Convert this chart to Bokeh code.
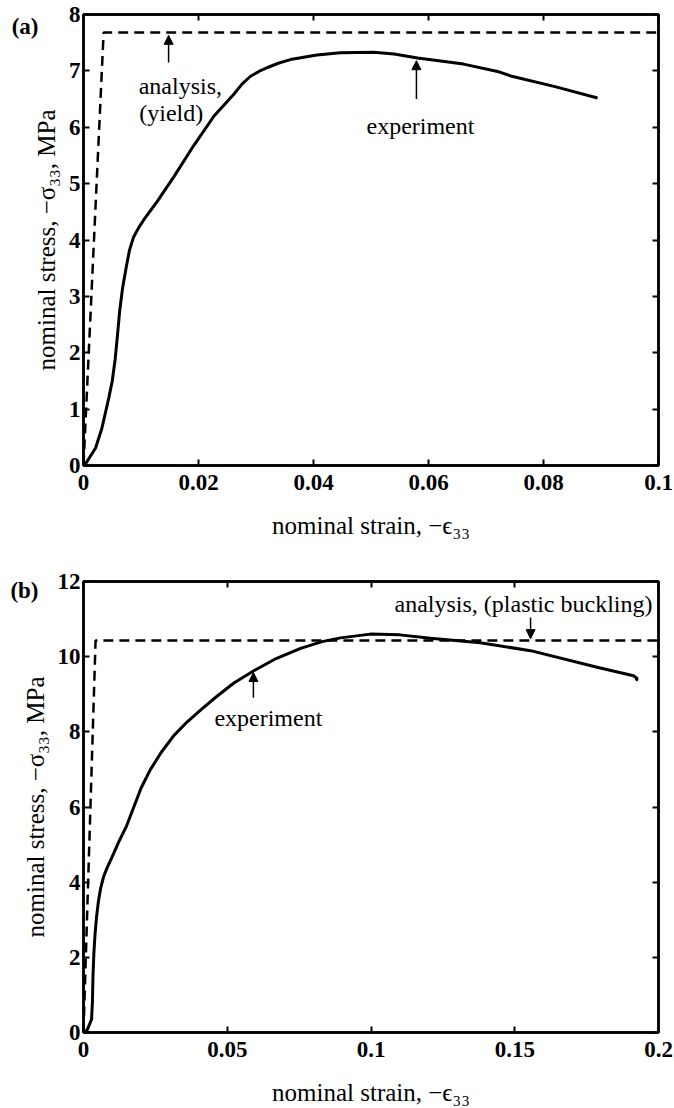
from bokeh.plotting import figure
from bokeh.layouts import column
from bokeh.models import (FixedTicker, LinearAxis, Range1d, Label, Arrow,
                          NormalHead, CustomJSTickFormatter)
from bokeh.embed import file_html
from bokeh.resources import INLINE

# ---------------- panel (a) data ----------------
exp_a_strain = [0, 0.0003, 0.0021, 0.0032, 0.0044, 0.0050, 0.0055, 0.0059, 0.0063,
                0.0068, 0.0074, 0.0080, 0.0087, 0.0096, 0.0105, 0.0128, 0.0157,
                0.0192, 0.0227, 0.0261, 0.0276, 0.0290, 0.0305, 0.0320, 0.0340,
                0.0360, 0.0406, 0.0447, 0.0504, 0.0540, 0.0581, 0.0661, 0.0720,
                0.0743, 0.0820, 0.0894]
exp_a_stress = [0, 0.02, 0.31, 0.66, 1.20, 1.50, 1.88, 2.30, 2.75,
                3.15, 3.50, 3.82, 4.05, 4.22, 4.36, 4.68, 5.12,
                5.68, 6.20, 6.58, 6.77, 6.90, 6.99, 7.06, 7.14,
                7.20, 7.28, 7.32, 7.33, 7.30, 7.23, 7.12, 6.99,
                6.91, 6.72, 6.52]
ana_a_strain = [0, 0.0035, 0.1]
ana_a_stress = [0, 7.68, 7.68]
xticks_a = [0, 0.02, 0.04, 0.06, 0.08, 0.1]
xlabels_a = ["0", "0.02", "0.04", "0.06", "0.08", "0.1"]
yticks_a = [0, 1, 2, 3, 4, 5, 6, 7, 8]
ylabels_a = ["0", "1", "2", "3", "4", "5", "6", "7", "8"]

# ---------------- panel (b) data ----------------
exp_b_strain = [0, 0.0013, 0.0028, 0.0031, 0.0033, 0.0036, 0.0040, 0.0045, 0.0052,
                0.0060, 0.0070, 0.0082, 0.0100, 0.0123, 0.0150, 0.0175, 0.0200,
                0.0233, 0.0270, 0.0314, 0.0360, 0.0407, 0.0460, 0.0523, 0.0591,
                0.0670, 0.0755, 0.0830, 0.0894, 0.0998, 0.1100, 0.1207, 0.1380,
                0.1555, 0.1790, 0.1913, 0.1926, 0.1922]
exp_b_stress = [0, 0.07, 0.35, 0.80, 1.50, 2.10, 2.60, 3.05, 3.50,
                3.85, 4.15, 4.38, 4.68, 5.08, 5.50, 6.00, 6.50,
                7.00, 7.45, 7.90, 8.26, 8.58, 8.92, 9.30, 9.62,
                9.95, 10.22, 10.40, 10.50, 10.60, 10.58, 10.49, 10.37,
                10.16, 9.71, 9.49, 9.42, 9.36]
ana_b_strain = [0, 0.0042, 0.2]
ana_b_stress = [0, 10.43, 10.43]
xticks_b = [0, 0.05, 0.1, 0.15, 0.2]
xlabels_b = ["0", "0.05", "0.1", "0.15", "0.2"]
yticks_b = [0, 2, 4, 6, 8, 10, 12]
ylabels_b = ["0", "2", "4", "6", "8", "10", "12"]

XLABEL = "nominal strain, \u2212\u03f5\u2083\u2083"
YLABEL = "nominal stress, \u2212\u03c3\u2083\u2083, MPa"

SERIF = "Liberation Serif"


def make_panel(xr, yr, xticks, xlabels, yticks, ylabels, height, bborder,
               tag, tag_pos, tag_standoff):
    p = figure(width=674, height=height, x_range=Range1d(*xr), y_range=Range1d(*yr),
               output_backend="svg", toolbar_location=None,
               min_border_left=83, min_border_right=16, min_border_top=14,
               min_border_bottom=bborder)
    p.grid.visible = False
    p.outline_line_color = "black"
    p.outline_line_width = 2.5
    p.background_fill_color = "white"
    p.border_fill_color = "white"

    p.xaxis.ticker = FixedTicker(ticks=xticks)
    p.xaxis.major_label_overrides = dict(zip(xticks, xlabels))
    p.yaxis.ticker = FixedTicker(ticks=yticks)
    p.yaxis.major_label_overrides = dict(zip(yticks, ylabels))
    p.xaxis.axis_label = XLABEL
    p.yaxis.axis_label = YLABEL

    for ax in (p.xaxis[0], p.yaxis[0]):
        ax.axis_line_width = 2.5
        ax.major_tick_line_width = 2
        ax.major_tick_in = 6
        ax.major_tick_out = 0
        ax.minor_tick_line_color = None
        ax.major_label_text_font = SERIF
        ax.major_label_text_font_style = "bold"
        ax.major_label_text_font_size = "23px"
        ax.major_label_text_color = "black"
        ax.axis_label_text_font = SERIF
        ax.axis_label_text_font_style = "normal"
        ax.axis_label_text_font_size = "25px"
        ax.axis_label_text_color = "black"
    p.xaxis.major_label_standoff = 9
    p.xaxis.axis_label_standoff = 19
    p.yaxis.major_label_standoff = 3
    p.yaxis.axis_label_standoff = 6

    blank = CustomJSTickFormatter(code="return ''")
    top = LinearAxis(ticker=FixedTicker(ticks=xticks), formatter=blank,
                     major_label_standoff=0, major_tick_in=6, major_tick_out=0,
                     major_tick_line_width=2, minor_tick_line_color=None,
                     axis_line_width=2.5)
    right = LinearAxis(ticker=FixedTicker(ticks=yticks), formatter=blank,
                       major_label_standoff=0, major_tick_in=6, major_tick_out=0,
                       major_tick_line_width=2, minor_tick_line_color=None,
                       axis_line_width=2.5)
    p.add_layout(top, "above")
    p.add_layout(right, "right")

    # panel tag "(a)" / "(b)" as the single label of an extra, line-less left axis
    tag_axis = LinearAxis(ticker=FixedTicker(ticks=[tag_pos]),
                          major_label_overrides={tag_pos: tag},
                          axis_line_color=None, major_tick_line_color=None,
                          minor_tick_line_color=None, major_tick_in=0, major_tick_out=0,
                          major_label_standoff=tag_standoff,
                          major_label_text_font=SERIF, major_label_text_font_style="bold",
                          major_label_text_font_size="23px", major_label_text_color="black")
    p.add_layout(tag_axis, "left")
    return p


def arrow(p, x, y0, y1):
    p.add_layout(Arrow(end=NormalHead(size=9, fill_color="black", line_color="black",
                                      line_width=1),
                       x_start=x, y_start=y0, x_end=x, y_end=y1,
                       line_color="black", line_width=1.5))


def label(p, x, y, text, align="left"):
    p.add_layout(Label(x=x, y=y, text=text, text_font=SERIF, text_font_size="24px",
                       text_align=align, text_baseline="alphabetic",
                       text_color="black"))


# ---------------- panel (a) ----------------
pa = make_panel((0, 0.1), (0, 8), xticks_a, xlabels_a, yticks_a, ylabels_a, 567, 102,
                "(a)", 7.78, -9)
pa.line(ana_a_strain, ana_a_stress, line_color="black", line_width=2.5, line_dash="10 6")
pa.line(exp_a_strain, exp_a_stress, line_color="black", line_width=3)
arrow(pa, 0.0148, 7.15, 7.63)
arrow(pa, 0.0579, 6.50, 7.18)
label(pa, 0.0096, 6.73, "analysis,")
label(pa, 0.0097, 6.25, "(yield)")
label(pa, 0.0586, 6.02, "experiment", align="center")

# ---------------- panel (b) ----------------
pb = make_panel((0, 0.2), (0, 12), xticks_b, xlabels_b, yticks_b, ylabels_b, 541, 76,
                "(b)", 11.76, -20)
pb.line(ana_b_strain, ana_b_stress, line_color="black", line_width=2.5, line_dash="10 6")
pb.line(exp_b_strain, exp_b_stress, line_color="black", line_width=3)
arrow(pb, 0.1555, 11.04, 10.48)
arrow(pb, 0.0591, 8.91, 9.58)
label(pb, 0.1979, 11.41, "analysis, (plastic buckling)", align="right")
label(pb, 0.0643, 8.37, "experiment", align="center")

layout = column(pa, pb)
open("out.html", "w").write(file_html(layout, INLINE))
